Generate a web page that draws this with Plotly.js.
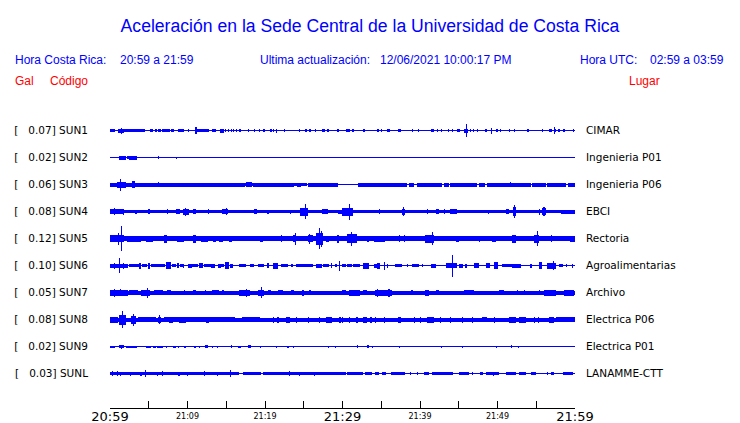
<!DOCTYPE html>
<html>
<head>
<meta charset="utf-8">
<script src="https://cdn.plot.ly/plotly-3.0.1.min.js"></script>
<style>html,body{margin:0;padding:0;background:#fff;}#chart{width:740px;height:423px;}</style>
</head>
<body>
<div id="chart"></div>
<script>
// ---------------- DATA ----------------
const codes = ["SUN1","SUN2","SUN3","SUN4","SUN5","SUN6","SUN7","SUN8","SUN9","SUNL"];
const peakGal = [0.07,0.02,0.06,0.08,0.12,0.10,0.05,0.08,0.02,0.03];
const places = ["CIMAR","Ingenieria P01","Ingenieria P06","EBCI","Rectoria","Agroalimentarias","Archivo","Electrica P06","Electrica P01","LANAMME-CTT"];
const timeTickVals = [0,5,10,15,20,25,30,35,40,45,50,55,60];   // minutes after 20:59
const majorTickVals = [0,30,60];
const majorTickText = ["20:59","21:29","21:59"];
const minorTickVals = [10,20,40,50];
const minorTickText = ["21:09","21:19","21:39","21:49"];

// envelope blocks [startMin, endMin, halfAmplitude] and spikes [min, halfAmplitude]
const sun1Blocks = [[0,0.6,1.5],[1.0,1.8,2],[1.8,4.5,1.5],[5.1,5.6,1.5],[5.8,6.0,1.5],[6.2,6.6,1.5],[6.7,7.7,1.5],[7.9,8.3,1.5],[8.8,9.6,1.5],[10.0,10.2,1.5],[11.0,12.8,1.5],[13.2,13.7,1.5],[14.2,14.7,2],[14.85,15.0,1.5],[15.2,15.35,1.5],[15.6,15.75,1.5],[15.9,16.05,1.5],[16.3,16.45,1.5],[16.7,16.85,1.5],[17.75,17.9,1.5],[18.55,18.7,1.5],[19.25,19.4,1.5],[19.8,20.0,1.5],[20.6,20.85,1.5],[21.05,21.2,1.5],[22.45,22.6,1.5],[24.35,24.5,1.5],[25.2,25.4,1.5],[25.7,25.95,1.5],[26.45,26.6,1.5],[27.4,27.75,1.5],[28.0,28.3,1.5],[29.3,29.5,1.5],[30.5,31.0,1.5],[31.2,31.5,1.5],[32.6,32.9,1.5],[34.4,34.7,1.5],[34.95,35.1,1.5],[35.7,36.1,1.5],[37.2,37.6,1.5],[38.95,39.1,1.5],[39.75,39.9,1.5],[41.4,41.8,1.5],[42.15,42.3,1.5],[42.7,42.9,1.5],[43.55,43.7,1.5],[44.15,44.3,1.5],[44.8,45.2,1.5],[45.7,46.2,2],[46.45,46.6,1.5],[46.85,47.0,1.5],[47.35,47.5,1.5],[48.4,48.7,1.5],[49.1,49.3,2],[49.8,50.0,1.5],[50.35,50.5,1.5],[51.45,51.6,1.5],[52.15,52.3,1.5],[53.85,54.0,1.5],[55.7,55.9,1.5],[56.6,57.0,1.5],[57.3,57.5,1.5],[57.85,58.0,1.5],[58.4,58.7,1.5],[59.75,59.9,1.5]];
const sun1Spikes = [[1.5,3],[11.1,3.5],[21.5,2],[46.0,6.5],[49.2,3],[57.4,3.5]];

const sun2Blocks = [[1.2,2.0,2],[2.25,2.4,1.5],[2.5,3.5,2]];
const sun2Spikes = [[6.3,1.5],[8.6,1]];

const sun3Blocks = [[0,17.4,2],[0.9,2.0,3],[2.8,3.2,3.5],[17.4,17.6,1.2],[17.6,18.3,2.5],[18.3,18.5,1.2],[18.5,23.8,2],[23.8,24.1,1.2],[24.1,24.7,2],[24.7,25.4,1.5],[25.5,26.0,2],[26.1,29.4,2],[32.0,38.3,2],[38.6,39.2,2],[39.6,42.9,2],[43.1,43.7,2],[43.9,47.4,2],[47.6,48.4,2],[48.6,54.3,2],[54.5,56.2,2],[56.4,58.8,2],[59.1,60,2]];
const sun3Spikes = [[1.4,6],[3.0,3.5],[6.3,2.5],[51.7,2.5]];

const sun4Blocks = [[0,60,1.5],[0,1.8,2.5],[3.2,3.5,2],[4.9,5.2,2.5],[7.3,7.5,2.5],[8.5,9.0,2.5],[9.4,10.2,3],[10.7,11.1,2.5],[12.6,12.8,2.5],[14.5,15.2,2.5],[18.6,19.0,2.5],[20.3,20.5,2],[23.2,23.4,2],[24.5,25.5,4],[27.3,28.1,2.5],[29.4,29.9,2],[29.9,31.4,4],[34.75,34.9,2.5],[37.7,38.1,3],[40.85,41.0,2.5],[42.0,42.4,2.5],[43.05,43.2,2.5],[43.9,44.8,2.5],[48.75,48.9,2],[51.1,51.5,2.5],[52.0,52.4,4.5],[55.3,55.5,3],[55.8,56.3,3.5],[58.2,60,2]];
const sun4Spikes = [[0.6,3.5],[1.7,3],[9.7,4],[15.0,3.5],[25.2,7.3],[30.9,8],[37.9,4.7],[52.2,6.3],[56.0,4.5]];

const sun5Blocks = [[0,60,2.5],[0,1.8,3.5],[2.2,4.0,3],[4.6,5.5,3],[7.0,7.4,4],[8.7,9.6,3],[10.7,11.1,4],[11.7,12.6,3],[13.3,13.7,3],[14.1,14.6,3],[15.3,15.7,3],[19.3,19.7,3],[22.0,22.2,3.5],[23.6,24.0,3.5],[25.5,26.2,3.5],[26.6,27.5,6],[27.9,28.3,3],[29.3,29.5,4],[30.6,31.9,4.5],[33.2,33.4,3],[34.0,35.5,3],[37.25,37.4,3.5],[37.9,38.05,3.5],[40.7,41.8,4],[44.6,45.0,3],[47.6,47.75,3],[49.3,49.8,3],[51.9,52.4,4],[54.7,55.4,4],[56.9,57.05,3.5],[59.4,60,3]];
const sun5Spikes = [[1.5,12.5],[1.1,6],[23.9,6],[25.8,5],[27.0,10.5],[27.3,8],[31.2,7],[41.6,6.5],[55.2,7.5]];

const sun6Blocks = [[0,2.3,2],[2.5,3.8,1.5],[3.8,4.0,3],[4.1,4.8,1.5],[4.9,5.2,3],[5.3,7.1,1.5],[7.2,7.9,3.5],[8.0,8.5,1.5],[8.6,8.9,2.5],[9.0,9.4,1.5],[9.4,9.6,2],[10.0,10.6,2],[10.6,11.4,1.5],[11.5,12.0,2.5],[12.1,13.0,1.5],[13.0,13.5,2],[13.9,14.3,2],[14.3,14.7,1.5],[14.8,15.4,3.5],[15.5,15.9,2],[16.7,17.6,1.5],[18.0,18.6,1.5],[19.1,19.9,1.5],[20.3,20.5,2.5],[21.0,21.7,3],[22.1,23.0,1.5],[23.3,23.6,1.5],[24.0,26.2,1.5],[26.6,27.3,2],[27.5,28.3,1.5],[28.5,28.7,2.5],[29.0,29.3,1.5],[29.9,30.4,1.5],[30.6,31.2,1.5],[31.4,32.3,1.5],[32.7,33.4,3],[34.0,34.5,2],[34.5,34.9,3],[35.3,35.5,4],[35.7,35.9,2],[36.8,37.7,1.5],[38.3,38.5,1.5],[39.0,39.9,1.5],[40.3,40.45,1.5],[41.4,42.0,2],[43.3,44.8,2.5],[45.0,45.5,2],[45.8,46.0,2],[47.0,47.6,2.5],[48.5,49.0,2.5],[49.5,50.0,3.5],[50.6,51.9,1.5],[51.9,53.0,2],[54.2,54.4,2],[55.4,55.8,3.5],[56.4,57.5,3],[57.9,58.4,1.5],[58.8,59.0,1.5],[59.6,59.8,2]];
const sun6Spikes = [[0.6,3],[1.2,7.3],[1.8,3],[29.6,5],[44.2,11],[57.2,4.5]];

const sun7Blocks = [[0,60,2],[0,2.3,3],[2.5,3.6,2.5],[4.0,5.1,3],[5.7,6.8,2.5],[7.4,7.9,2.5],[9.5,9.7,2.5],[10.7,11.1,2.5],[12.2,12.4,2.5],[13.1,14.0,2.5],[14.5,14.7,2.5],[16.7,18.0,3],[19.1,19.9,3],[20.4,20.8,2.5],[21.7,22.3,2.5],[23.3,23.7,2.5],[24.8,25.0,3],[25.7,25.9,2.5],[29.9,30.5,2.5],[30.8,32.3,3],[32.7,33.2,2.5],[34.2,36.4,3],[38.9,39.1,2.5],[40.7,41.1,3],[42.0,42.5,2.5],[45.7,47.0,2.5],[50.2,50.8,2.5],[52.5,52.7,2.5],[53.4,53.6,2.5],[55.3,55.5,2.5],[56.0,57.5,3],[58.6,59.9,3]];
const sun7Spikes = [[0.6,4],[1.4,3.5],[4.8,5],[17.6,4],[19.6,5.5],[34.5,4],[36.0,4]];

const sun8Blocks = [[0,60,2],[0,1.0,3],[1.2,2.1,5],[2.7,3.3,4],[3.6,5.9,2.5],[6.2,6.6,3],[7.0,14.0,2.5],[7.6,8.1,3],[8.9,9.8,3],[12.4,12.8,3],[14.0,16.1,2.5],[17.0,19.3,2.5],[21.0,21.15,3],[21.6,21.75,3],[22.7,23.2,3],[24.0,24.15,3],[25.5,25.65,3],[27.0,27.15,3],[27.9,28.6,3],[29.6,29.75,3],[29.9,30.1,3],[30.8,30.95,3],[31.8,31.95,3],[32.7,33.2,3],[33.6,33.8,3],[34.2,34.35,3],[35.3,35.45,3],[37.1,37.5,3],[39.2,39.35,3],[40.0,40.15,3],[40.9,41.8,3],[42.6,42.75,3],[43.9,44.05,3],[45.4,45.55,3],[46.7,46.85,3],[48.0,48.7,2.5],[49.5,49.65,3],[51.5,52.4,3],[52.8,53.7,3],[54.7,54.85,3],[55.2,55.35,3],[56.7,57.3,3],[57.5,60,2.5]];
const sun8Spikes = [[1.6,8.3],[3.0,6],[6.4,4.5]];

const sun9Blocks = [[0,0.7,1],[1.2,1.8,1.5],[2.0,3.5,1],[4.6,5.3,1],[5.5,5.9,1],[6.1,6.8,1],[7.2,7.4,1],[8.1,8.5,1],[8.8,8.95,1],[9.6,9.75,1],[10.9,11.1,1],[11.5,11.65,1],[12.3,12.6,1.5],[13.1,13.25,1],[13.8,13.95,1],[15.55,15.7,1.5],[16.5,16.9,1],[17.8,18.2,1.5],[19.3,19.45,1],[21.45,21.6,1],[22.9,23.05,1],[23.6,23.75,1],[28.1,28.25,1],[29.0,29.15,1],[31.85,32.0,1.5],[33.2,33.4,1.5],[33.8,33.95,1],[37.25,37.4,1],[42.65,42.8,1],[45.45,45.6,1],[49.75,49.9,1],[51.7,51.9,1.5],[52.6,52.75,1]];
const sun9Spikes = [[1.5,2]];

const sunLBlocks = [[0,16.7,1.5],[17.1,19.5,1.5],[19.7,30.4,1.5],[30.6,32.7,1.5],[32.9,33.8,1.5],[34.2,34.7,1.5],[35.1,35.6,1.5],[36.2,38.1,1.5],[38.7,38.85,1.5],[39.6,39.75,1.5],[40.5,41.2,1.5],[41.6,44.2,1.5],[45.0,46.3,1.5],[46.7,46.85,1.5],[47.8,48.1,1.5],[48.5,50.2,1.5],[51.1,52.4,1.5],[52.8,53.7,1.5],[54.3,55.0,1.5],[56.4,56.55,1.5],[56.9,57.3,1.5],[58.4,59.7,1.5]];
const sunLSpikes = [[0.3,2.5],[1.0,2.5],[1.4,2],[2.7,2],[4.0,2],[4.6,3.8],[6.1,2],[6.8,2.5],[8.9,2],[10.0,2],[12.2,2.5],[13.9,2],[15.6,3.5],[23.2,2.5],[24.5,2],[26.4,2],[49.5,2]];

const allBlocks = [sun1Blocks,sun2Blocks,sun3Blocks,sun4Blocks,sun5Blocks,sun6Blocks,sun7Blocks,sun8Blocks,sun9Blocks,sunLBlocks];
const allSpikes = [sun1Spikes,sun2Spikes,sun3Spikes,sun4Spikes,sun5Spikes,sun6Spikes,sun7Spikes,sun8Spikes,sun9Spikes,sunLSpikes];

// ---------------- DRAWING ----------------
const BLUE = "#0000ff";
const S = 1/27;          // row units per amplitude unit
const SPIKE_W = 0.14;    // minutes
const MIN_W = 0.15;

const traces = [];
codes.forEach((c, i) => {
  traces.push({type:"scatter", mode:"lines", x:[0,60], y:[i,i], line:{color:BLUE, width:1},
               hoverinfo:"skip", showlegend:false});
  const x=[], w=[], base=[], h=[];
  allBlocks[i].forEach(([t0,t1,a]) => { x.push((t0+t1)/2); w.push(Math.max(t1-t0, MIN_W)); base.push(i - a*S); h.push(2*a*S); });
  allSpikes[i].forEach(([t,a]) => { x.push(t); w.push(SPIKE_W); base.push(i - a*S); h.push(2*a*S); });
  traces.push({type:"bar", x:x, y:h, base:base, width:w, marker:{color:BLUE, line:{width:0}},
               hoverinfo:"skip", showlegend:false});
});
// helper invisible traces so the secondary axes are drawn
traces.push({type:"scatter", mode:"lines", x:[0,60], y:[0,0], xaxis:"x2", yaxis:"y", opacity:0, hoverinfo:"skip", showlegend:false});
traces.push({type:"scatter", mode:"lines", x:[0,60], y:[0,0], xaxis:"x", yaxis:"y2", opacity:0, hoverinfo:"skip", showlegend:false});

const NB = "\u00a0";
const leftLabels = codes.map((c,i) => "[" + NB + NB + NB + peakGal[i].toFixed(2) + "]" + NB + c);
const rows = codes.map((c,i) => i);
const yRange = [9 + 34.5/27, -14.5/27];
const labFont = {family:"DejaVu Sans, sans-serif", size:10.5, color:"#000"};

const W = 740, PL = 110, PR = 575, PT = 116, PB = 408;
const ax = p => (p - PL) / (PR - PL);
const ay = p => (PB - p) / (PB - PT);
const hdrFont = {family:"Liberation Sans, Arial, sans-serif", size:12, color:BLUE};
const redFont = {family:"Liberation Sans, Arial, sans-serif", size:12, color:"#ff0000"};
function ann(text, px, py, font){
  return {text:text, x:ax(px), y:ay(py), xref:"paper", yref:"paper", xanchor:"left", yanchor:"middle",
          showarrow:false, font:font, borderpad:0, borderwidth:0};
}

const layout = {
  width:740, height:423,
  margin:{l:PL, r:W-PR, t:PT, b:423-PB, pad:0},
  paper_bgcolor:"#fff", plot_bgcolor:"#fff",
  barmode:"overlay", bargap:0, showlegend:false,
  title:{text:"Aceleración en la Sede Central de la Universidad de Costa Rica",
         x:0.5, xref:"container", xanchor:"center", y:1-25.5/423, yref:"container", yanchor:"middle",
         font:{family:"Liberation Sans, Arial, sans-serif", size:17.6, color:BLUE}},
  xaxis:{range:[0,60], showline:true, linecolor:"#000", linewidth:1, mirror:false,
         ticks:"inside", ticklen:7, tickwidth:1, tickcolor:"#000",
         tickmode:"array", tickvals:timeTickVals,
         ticktext:timeTickVals.map(v => { const k = majorTickVals.indexOf(v); return k >= 0 ? majorTickText[k] : ""; }),
         tickfont:{family:"DejaVu Sans, sans-serif", size:13, color:"#000"},
         ticklabelstandoff:-4,
         showgrid:false, zeroline:false, fixedrange:true},
  xaxis2:{range:[0,60], overlaying:"x", anchor:"y", side:"bottom", showline:false, ticks:"",
          tickmode:"array", tickvals:minorTickVals, ticktext:minorTickText,
          tickfont:{family:"DejaVu Sans, sans-serif", size:8, color:"#000"},
          ticklabelstandoff:2, showgrid:false, zeroline:false, fixedrange:true},
  yaxis:{range:yRange, tickmode:"array", tickvals:rows, ticktext:leftLabels, tickfont:labFont,
         ticks:"", showline:false, showgrid:false, zeroline:false, ticklabelstandoff:21, fixedrange:true},
  yaxis2:{range:yRange, overlaying:"y", side:"right", anchor:"x", tickmode:"array", tickvals:rows, ticktext:places,
          tickfont:labFont, ticks:"", showline:false, showgrid:false, zeroline:false, ticklabelstandoff:10, fixedrange:true},
  annotations:[
    ann("Hora Costa Rica:", 15, 60, hdrFont),
    ann("20:59 a 21:59", 120, 60, hdrFont),
    ann("Ultima actualización:", 260, 60, hdrFont),
    ann("12/06/2021 10:00:17 PM", 380, 60, hdrFont),
    ann("Hora UTC:", 580, 60, hdrFont),
    ann("02:59 a 03:59", 650, 60, hdrFont),
    ann("Gal", 15, 81, redFont),
    ann("Código", 50, 81, redFont),
    ann("Lugar", 629, 81, redFont)
  ]
};

Plotly.newPlot("chart", traces, layout, {displayModeBar:false, staticPlot:true});
</script>
</body>
</html>
